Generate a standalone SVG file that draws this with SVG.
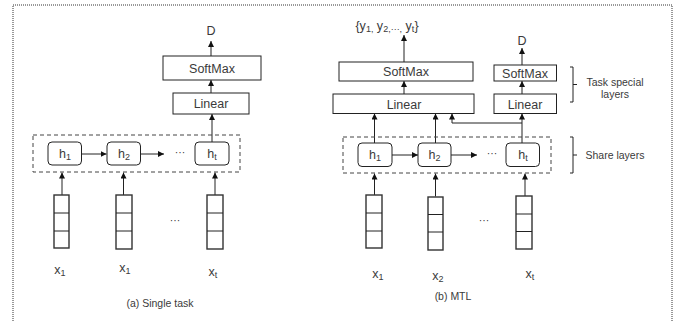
<svg xmlns="http://www.w3.org/2000/svg" width="675" height="322" viewBox="0 0 675 322">
<defs>
<marker id="ah" viewBox="0 0 6 6" refX="6" refY="3" markerWidth="6" markerHeight="6" markerUnits="userSpaceOnUse" orient="auto">
<path d="M0,0 L6,3 L0,6 z" fill="#111"/>
</marker>
</defs>
<style>
text{font-family:"Liberation Sans",Arial,sans-serif;fill:#3a3a3a;}
.lbl{font-size:12.5px;text-anchor:middle;}
.sm{font-size:10.5px;text-anchor:middle;}
.box{fill:#fff;stroke:#222;stroke-width:1;}
.hbox{fill:#fff;stroke:#222;stroke-width:1;}
.vec{fill:#fff;stroke:#333;stroke-width:1.4;}
.dash{fill:none;stroke:#444;stroke-width:1;stroke-dasharray:4,3;}
.arr{stroke:#222;stroke-width:1;fill:none;marker-end:url(#ah);}
.ln{stroke:#222;stroke-width:1;fill:none;}
.sub{font-size:9px;}
</style>
<rect x="13" y="5" width="659" height="330" fill="none" stroke="#333" stroke-width="1" stroke-dasharray="1,1"/>

<g id="connectors">
<line class="arr" x1="211" y1="56" x2="211" y2="41"/>
<line class="arr" x1="211" y1="93" x2="211" y2="80"/>
<line class="arr" x1="212" y1="142" x2="212" y2="114"/>
<line class="arr" x1="81.5" y1="154" x2="106.5" y2="154"/>
<line class="arr" x1="140.5" y1="154" x2="164" y2="154"/>
<line class="arr" x1="62" y1="195" x2="62" y2="172.5"/>
<line class="arr" x1="123.5" y1="195" x2="123.5" y2="172.5"/>
<line class="arr" x1="215" y1="195" x2="215" y2="172.5"/>
<line class="arr" x1="404" y1="62" x2="404" y2="35"/>
<line class="arr" x1="404" y1="94" x2="404" y2="81"/>
<line class="arr" x1="522" y1="65" x2="522" y2="48"/>
<line class="arr" x1="522" y1="94" x2="522" y2="81"/>
<line class="arr" x1="374.5" y1="143" x2="374.5" y2="113.5"/>
<line class="arr" x1="435.5" y1="143" x2="435.5" y2="113.5"/>
<line class="arr" x1="522" y1="143" x2="522" y2="113.5"/>
<polyline class="arr" points="522,123 452,123 452,113.5"/>
<line class="arr" x1="392" y1="155" x2="418" y2="155"/>
<line class="arr" x1="451" y1="155" x2="477" y2="155"/>
<line class="arr" x1="374.5" y1="195" x2="374.5" y2="173.5"/>
<line class="arr" x1="435.5" y1="196.5" x2="435.5" y2="173.5"/>
<line class="arr" x1="525" y1="196" x2="525" y2="173.5"/>
</g>

<g id="left">
<text class="lbl" x="211" y="35">D</text>
<g id="softmax-a"><rect class="box" x="163" y="56" width="98" height="24"/><text class="lbl" x="212" y="72.5">SoftMax</text></g>
<g id="linear-a"><rect class="box" x="173" y="93" width="76" height="21"/><text class="lbl" x="211" y="108">Linear</text></g>
<g id="share-a"><rect class="dash" x="33" y="135" width="207" height="37"/></g>
<g id="h1-a"><rect class="hbox" x="48" y="142" width="33.5" height="23" rx="4"/><text class="lbl" x="65" y="158">h<tspan class="sub" dy="2">1</tspan></text></g>
<g id="h2-a"><rect class="hbox" x="107" y="142" width="33.5" height="23" rx="4"/><text class="lbl" x="124" y="158">h<tspan class="sub" dy="2">2</tspan></text></g>
<g id="ht-a"><rect class="hbox" x="195" y="142" width="34" height="23" rx="4"/><text class="lbl" x="212" y="158">h<tspan class="sub" dy="2">t</tspan></text></g>
<text class="sm" x="180" y="156">···</text>
<g id="v1-a"><rect class="vec" x="54" y="195" width="15" height="53"/><path class="ln" d="M54,213H69M54,231H69" stroke-width="1.4"/></g>
<g id="v2-a"><rect class="vec" x="116" y="195" width="16" height="54"/><path class="ln" d="M116,213H132M116,231H132" stroke-width="1.4"/></g>
<g id="vt-a"><rect class="vec" x="207" y="195" width="16" height="54"/><path class="ln" d="M207,213H223M207,231H223" stroke-width="1.4"/></g>
<text class="sm" x="175" y="224">···</text>
<text class="lbl" x="60" y="273.5">x<tspan class="sub" dy="2">1</tspan></text>
<text class="lbl" x="125" y="272">x<tspan class="sub" dy="2">1</tspan></text>
<text class="lbl" x="213" y="276">x<tspan class="sub" dy="2">t</tspan></text>
<text class="sm" x="160" y="307">(a) Single task</text>
</g>

<g id="right">
<text class="lbl" x="387" y="30">{y<tspan class="sub" dy="2">1,</tspan><tspan dy="-2"> y</tspan><tspan class="sub" dy="2">2,···,</tspan><tspan dy="-2"> y</tspan><tspan class="sub" dy="2">t</tspan><tspan dy="-2">}</tspan></text>
<text class="lbl" x="522" y="44.5">D</text>
<g id="softmax-b1"><rect class="box" x="339" y="62" width="134" height="19"/><text class="lbl" x="406" y="76">SoftMax</text></g>
<g id="linear-b1"><rect class="box" x="333" y="94" width="141" height="19.5"/><text class="lbl" x="404" y="108.5">Linear</text></g>
<g id="softmax-b2"><rect class="box" x="494" y="65" width="62.5" height="16"/><text class="lbl" x="525" y="77.5">SoftMax</text></g>
<g id="linear-b2"><rect class="box" x="494" y="94" width="62.5" height="19.5"/><text class="lbl" x="525" y="108.5">Linear</text></g>
<g id="share-b"><rect class="dash" x="343" y="137" width="208" height="36"/></g>
<g id="h1-b"><rect class="hbox" x="358" y="143" width="34" height="23.5" rx="4"/><text class="lbl" x="375" y="159">h<tspan class="sub" dy="2">1</tspan></text></g>
<g id="h2-b"><rect class="hbox" x="418" y="143" width="33" height="23.5" rx="4"/><text class="lbl" x="434.5" y="159">h<tspan class="sub" dy="2">2</tspan></text></g>
<g id="ht-b"><rect class="hbox" x="506" y="143" width="33.5" height="23.5" rx="4"/><text class="lbl" x="523" y="159">h<tspan class="sub" dy="2">t</tspan></text></g>
<text class="sm" x="492" y="157">···</text>
<g id="v1-b"><rect class="vec" x="366" y="195" width="16" height="53"/><path class="ln" d="M366,213H382M366,231H382" stroke-width="1.4"/></g>
<g id="v2-b"><rect class="vec" x="428" y="197" width="15" height="53"/><path class="ln" d="M428,214.5H443M428,232H443" stroke-width="1.4"/></g>
<g id="vt-b"><rect class="vec" x="516" y="196" width="16" height="53"/><path class="ln" d="M516,214H532M516,231.5H532" stroke-width="1.4"/></g>
<text class="sm" x="484" y="224">···</text>
<text class="lbl" x="378" y="278">x<tspan class="sub" dy="2">1</tspan></text>
<text class="lbl" x="438" y="280">x<tspan class="sub" dy="2">2</tspan></text>
<text class="lbl" x="530" y="278">x<tspan class="sub" dy="2">t</tspan></text>
<text class="sm" x="453" y="300">(b) MTL</text>
<g id="bracket-task"><path class="ln" d="M570,67H573V102H570M573,84.5H577"/><text class="sm" x="615" y="86">Task special</text><text class="sm" x="615" y="97.5">layers</text></g>
<g id="bracket-share"><path class="ln" d="M570,137H573V173H570M573,155H577"/><text class="sm" x="615" y="159">Share layers</text></g>
</g>
</svg>
